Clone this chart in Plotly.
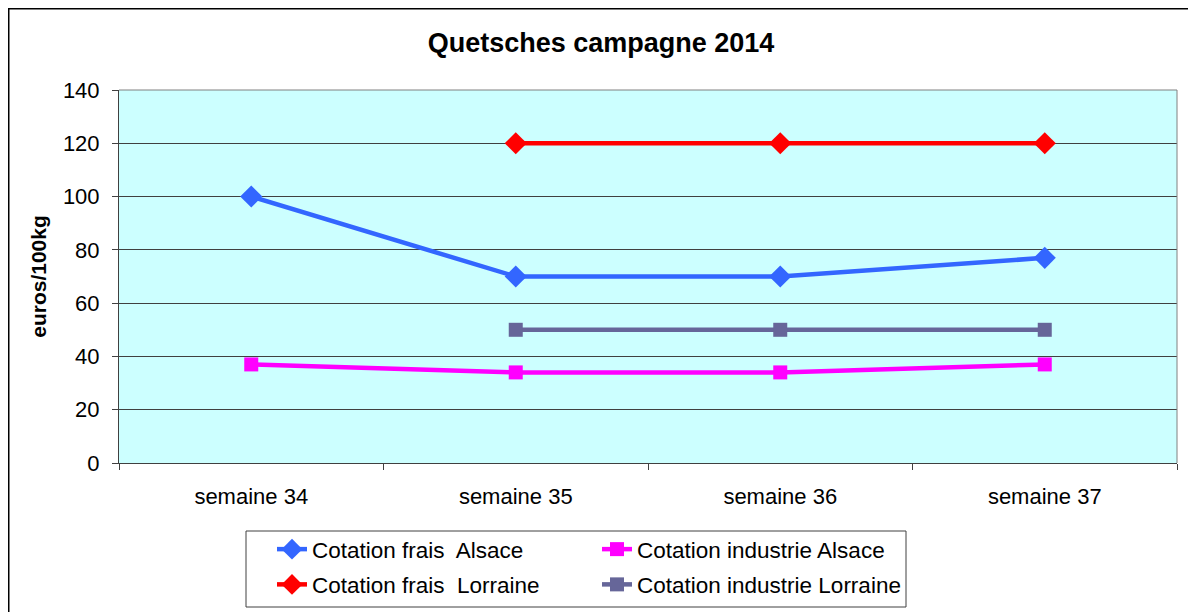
import plotly.graph_objects as go

categories = ["semaine 34", "semaine 35", "semaine 36", "semaine 37"]
frais_alsace = [100, 70, 70, 77]
industrie_alsace = [37, 34, 34, 37]
frais_lorraine = [None, 120, 120, 120]
industrie_lorraine = [None, 50, 50, 50]
y_ticks = [0, 20, 40, 60, 80, 100, 120, 140]

# the page body adds an 8px offset; figure coordinates are screen - 8
OFF = 8
W, H = 1196 - OFF, 612 - OFF
L, T = 119 - OFF, 90 - OFF
R = W - (1177 - OFF)
B = H - (463 - OFF)
pw, ph = W - L - R, H - T - B

FONT = "Liberation Sans, Arial, sans-serif"

def px_x(s):
    return (s - OFF - L) / pw

def px_y(s):
    return (H - B - (s - OFF)) / ph

fig = go.Figure()
series = [
    ("Cotation frais  Alsace", frais_alsace, "#3366FF", "diamond", 17, "legend"),
    ("Cotation frais  Lorraine", frais_lorraine, "#FF0000", "diamond", 17, "legend"),
    ("Cotation industrie Alsace", industrie_alsace, "#FF00FF", "square", 14, "legend2"),
    ("Cotation industrie Lorraine", industrie_lorraine, "#666699", "square", 14, "legend2"),
]
for name, vals, col, sym, sz, lg in series:
    fig.add_trace(go.Scatter(
        x=categories, y=vals, name=name, mode="lines+markers",
        line=dict(color=col, width=4.5),
        marker=dict(symbol=sym, size=sz, color=col),
        connectgaps=False, legend=lg, legendgroup=name,
    ))

leg_common = dict(
    orientation="v", xanchor="left", yanchor="top",
    borderwidth=0, bgcolor="rgba(0,0,0,0)",
    font=dict(family=FONT, size=22.5, color="black"),
    tracegroupgap=3, itemsizing="trace",
)

fig.update_layout(
    width=W, height=H,
    margin=dict(l=L, r=R, t=T, b=B, pad=0, autoexpand=False),
    paper_bgcolor="white",
    plot_bgcolor="#CCFFFF",
    font=dict(family=FONT, size=22, color="black"),
    title=dict(text="<b>Quetsches campagne 2014</b>", x=(601 - OFF) / W, xref="container",
               y=1 - (43 - OFF) / H, yref="container", xanchor="center", yanchor="middle",
               font=dict(family=FONT, size=27, color="black")),
    showlegend=True,
    legend=dict(x=px_x(272), y=px_y(528), **leg_common),
    legend2=dict(x=px_x(597), y=px_y(528), **leg_common),
    xaxis=dict(
        type="category", categoryorder="array", categoryarray=categories,
        range=[-0.5, 3.5], automargin=False,
        showgrid=False, showline=True, linecolor="#404040", linewidth=1,
        mirror=False, ticks="outside", ticklen=6, tickcolor="#404040",
        tickson="boundaries", ticklabelstandoff=14,
        tickfont=dict(family=FONT, size=22, color="black"),
        zeroline=False,
    ),
    yaxis=dict(
        range=[0, 140], tickvals=y_ticks, ticktext=[str(v) for v in y_ticks],
        automargin=False,
        showgrid=True, gridcolor="#404040", gridwidth=1,
        showline=True, linecolor="#404040", linewidth=1,
        ticks="outside", ticklen=6, tickcolor="#404040",
        ticklabelstandoff=8,
        tickfont=dict(family=FONT, size=22, color="black"),
        title=dict(text="<b>euros/100kg</b>", standoff=10,
                   font=dict(family=FONT, size=21, color="black")),
        zeroline=False,
    ),
    shapes=[
        dict(type="line", xref="paper", yref="paper", x0=0, x1=1, y0=1, y1=1,
             line=dict(color="#808080", width=1)),
        dict(type="line", xref="paper", yref="paper", x0=1, x1=1, y0=0, y1=1,
             line=dict(color="#808080", width=1)),
        # legend box
        dict(type="rect", xref="paper", yref="paper",
             x0=px_x(246), x1=px_x(906), y0=px_y(607), y1=px_y(531),
             line=dict(color="#404040", width=1), fillcolor="rgba(0,0,0,0)",
             layer="above"),
        # outer chart border
        dict(type="rect", xref="paper", yref="paper",
             x0=px_x(OFF + 0.75), x1=px_x(1195), y0=px_y(630), y1=px_y(OFF + 0.75),
             line=dict(color="black", width=1.5), fillcolor="rgba(0,0,0,0)",
             layer="above"),
    ],
)

fig.write_html("out.html")
